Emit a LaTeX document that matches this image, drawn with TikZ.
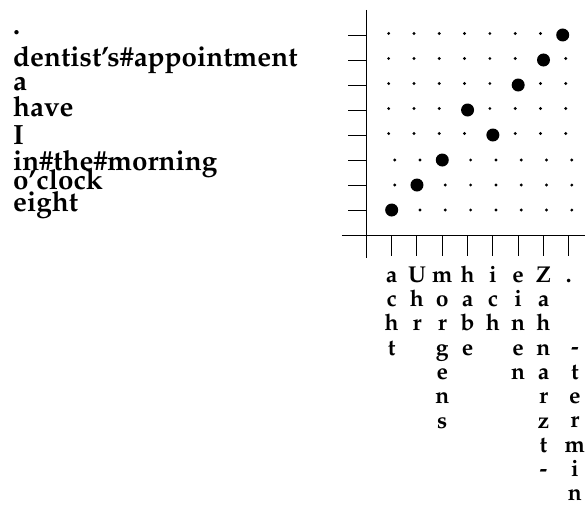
\documentclass[tikz,border=0pt]{standalone}
\usepackage[T1]{fontenc}
\renewcommand{\rmdefault}{ppl}
\usepackage{tikz}
\usetikzlibrary{positioning}

\newcommand{\letterstack}[1]{\begin{tabular}{@{}c@{}}#1\end{tabular}}

\begin{document}
\begin{tikzpicture}[
    x=0.6325cm, y=0.625cm,
    word/.style={anchor=base west, inner sep=0pt, font=\fontsize{19.8}{17.2}\selectfont\bfseries},
    letters/.style={anchor=north, inner sep=0pt, font=\fontsize{16.3}{17.3}\selectfont\bfseries},
    bigdot/.style={circle, fill, inner sep=0pt, minimum size=0.325cm},
    smalldot/.style={circle, fill, inner sep=0pt, minimum size=0.08cm},
    axis/.style={line width=0.7pt}
]
    \useasboundingbox (-14.48,-10.84) rectangle (8.64,9.4);

    % English side
    \node[word] (w0) at (-13.97, 8.02) {.};
    \node[word] (w1) at (-13.97, 6.73) {dentist's\#appointment};
    \node[word] (w2) at (-13.97, 5.77) {a};
    \node[word] (w3) at (-13.97, 4.76) {have};
    \node[word] (w4) at (-13.97, 3.63) {I};
    \node[word] (w5) at (-13.97, 2.60) {in\#the\#morning};
    \node[word] (w6) at (-13.97, 1.83) {o'clock};
    \node[word] (w7) at (-13.97, 0.93) {eight};

    % axes and ticks
    \coordinate (ytop) at (0, 9.0);
    \coordinate (ybot) at (0, -0.92);
    \coordinate (xleft) at (-0.97, 0);
    \coordinate (xright) at (8.64, 0);
    \draw[axis] (ytop) -- (ybot);
    \draw[axis] (xleft) -- (xright);
    \foreach \j in {1,...,8}
        \draw[axis] (0,\j) -- ++(-0.72,0);
    \foreach \i in {1,...,8}
        \draw[axis] (\i,0) -- ++(0,-0.84);

    % alignment points
    \foreach \j/\a/\ax in {1/1/1, 2/2/2, 3/3/3, 4/5/5, 5/4/4, 6/6/6, 7/7/7, 8/8/7.76} {
        \ifnum\j<4 \def\dx{0.12}\def\dy{0}\else \def\dx{-0.12}\def\dy{0.06}\fi
        \foreach \i in {1,...,8} {
            \ifnum\i=\a
                \node[bigdot] (d-\i-\j) at (\ax,\j) {};
            \else
                \node[smalldot] (d-\i-\j) at (\i+\dx,\j+\dy) {};
            \fi
        }
    }

    % German side
    \node[letters] (g1) at (1,-1.2) {\letterstack{a\\c\\h\\t}};
    \node[letters] (g2) at (2,-1.2) {\letterstack{U\\h\\r}};
    \node[letters] (g3) at (3,-1.2) {\letterstack{m\\o\\r\\g\\e\\n\\s}};
    \node[letters] (g4) at (4,-1.2) {\letterstack{h\\a\\b\\e}};
    \node[letters] (g5) at (5,-1.2) {\letterstack{i\\c\\h}};
    \node[letters] (g6) at (6,-1.2) {\letterstack{e\\i\\n\\e\\n}};
    \node[letters] (g7) at (7,-1.2) {\letterstack{Z\\a\\h\\n\\a\\r\\z\\t\\-}};
    \node[letters] (g8) at (8,-1.2) {\letterstack{.}};
    \node[letters] (g9) at (8.24,-4.1) {\letterstack{-\\t\\e\\r\\m\\i\\n}};
\end{tikzpicture}
\end{document}
